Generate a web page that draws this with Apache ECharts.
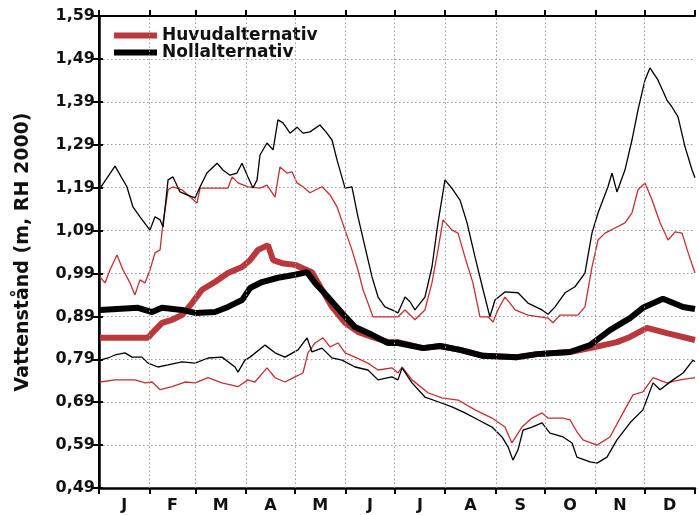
<!DOCTYPE html>
<html>
<head>
<meta charset="utf-8">
<script src="https://cdn.jsdelivr.net/npm/echarts@6/dist/echarts.min.js"></script>
<style>html,body{margin:0;padding:0;background:#fff;}#c{width:699px;height:515px;}</style>
</head>
<body>
<div id="c"></div>
<script>
// Month boundaries (day of year) and labels
const monthStarts = [0, 31, 59, 90, 120, 151, 181, 212, 243, 273, 304, 334, 365];
const monthLabels = ['J', 'F', 'M', 'A', 'M', 'J', 'J', 'A', 'S', 'O', 'N', 'D'];
const yTicks = ['0,49','0,59','0,69','0,79','0,89','0,99','1,09','1,19','1,29','1,39','1,49','1,59'];

// Huvudalternativ (red): mean, max, min  [day, m]
const huvudMean = [[0.6,0.840],[30,0.840],[34.3,0.858],[38.6,0.875],[44.7,0.882],[50.8,0.893],[57,0.921],[63.1,0.952],[71,0.970],[79,0.991],[87.6,1.005],[92.5,1.021],[97.4,1.045],[103.5,1.056],[106.6,1.021],[112.1,1.014],[120,1.010],[130.4,0.993],[136.6,0.952],[142.7,0.912],[150.7,0.875],[158.6,0.854],[167.2,0.842],[177,0.830],[183.1,0.830],[198.4,0.816],[208.8,0.821],[221.1,0.812],[235.2,0.798],[256,0.795],[268.2,0.802],[288.4,0.807],[300.7,0.816],[317.2,0.830],[325.2,0.842],[335.6,0.863],[347.8,0.851],[365,0.835]];
const huvudMax = [[0.6,0.982],[3.7,0.968],[6.7,0.998],[11,1.033],[14.7,0.998],[19,0.968],[22,0.940],[25.1,0.975],[28.2,0.968],[31.2,0.998],[34.3,1.038],[37.4,1.045],[39.2,1.108],[42.3,1.185],[45.3,1.192],[50.8,1.185],[54.5,1.173],[60,1.154],[61.9,1.189],[71,1.189],[79,1.189],[81.5,1.215],[85.1,1.201],[91.2,1.192],[98.6,1.189],[102.9,1.196],[107.8,1.168],[110.8,1.238],[115.1,1.224],[118.2,1.227],[121.3,1.201],[124.9,1.192],[129.2,1.178],[136.6,1.192],[141.5,1.173],[145.8,1.145],[150.7,1.091],[154.9,1.045],[158.6,0.998],[161.7,0.952],[164.7,0.921],[167.8,0.889],[183.1,0.889],[187.4,0.905],[193.5,0.882],[199.6,0.905],[203.9,0.968],[207.6,1.045],[210.7,1.115],[216.2,1.091],[219.9,1.084],[224.1,1.028],[229,0.968],[233.3,0.889],[238.2,0.889],[241.3,0.877],[244.3,0.905],[248.6,0.935],[251.7,0.921],[254.8,0.905],[262.7,0.893],[275,0.886],[278,0.875],[282.3,0.893],[293.3,0.893],[297.6,0.912],[301.9,1.005],[305.6,1.068],[309.9,1.084],[316,1.096],[322.1,1.108],[326.4,1.131],[330.1,1.185],[334.4,1.201],[338.7,1.161],[343.6,1.108],[348.5,1.068],[352.8,1.087],[357.1,1.084],[360.8,1.038],[365,0.991]];
const huvudMin = [[0.6,0.737],[9.8,0.742],[22,0.742],[28.2,0.735],[32.5,0.737],[37.4,0.719],[44.7,0.726],[52.7,0.737],[58.8,0.735],[66.8,0.747],[75.3,0.735],[85.1,0.726],[91.2,0.742],[95.5,0.737],[102.9,0.770],[107.8,0.747],[113.9,0.737],[120,0.749],[124.9,0.758],[128,0.805],[132.3,0.828],[137.2,0.840],[141.5,0.819],[146.4,0.828],[150.7,0.805],[156.8,0.795],[164.7,0.781],[170.9,0.765],[179.4,0.770],[183.1,0.758],[185.6,0.772],[191.7,0.742],[201.5,0.712],[210,0.700],[219.9,0.695],[230.3,0.672],[240.7,0.653],[248.6,0.632],[252.9,0.595],[259,0.632],[265.2,0.653],[271.3,0.665],[275,0.653],[284.2,0.653],[288.4,0.649],[292.7,0.621],[296.4,0.602],[305,0.590],[312.9,0.609],[320.9,0.665],[327,0.707],[333.1,0.714],[339.3,0.747],[347.8,0.735],[355.8,0.742],[365,0.747]];

// Nollalternativ (black): mean, max, min  [day, m]
const nollMean = [[0.6,0.905],[23.9,0.910],[32.5,0.900],[38.6,0.910],[50.8,0.905],[58.8,0.898],[71,0.900],[79,0.912],[87.6,0.928],[92.5,0.956],[99.8,0.970],[109.6,0.980],[120,0.987],[127.4,0.993],[132.3,0.968],[140.2,0.935],[148.8,0.898],[156.8,0.865],[167.2,0.847],[177,0.828],[183.1,0.828],[198.4,0.816],[208.8,0.821],[221.1,0.812],[235.2,0.798],[256,0.795],[268.2,0.802],[288.4,0.807],[300.7,0.823],[312.9,0.858],[325.2,0.886],[333.1,0.910],[345.4,0.931],[357.7,0.912],[365,0.907]];
const nollMax = [[0,1.185],[9.8,1.240],[17.1,1.192],[20.8,1.145],[25.1,1.122],[31.2,1.091],[34.3,1.122],[37.4,1.115],[39.2,1.098],[42.3,1.208],[45.3,1.215],[49.6,1.180],[53.9,1.173],[58.8,1.166],[61.9,1.192],[66.1,1.224],[72.3,1.247],[75.9,1.231],[80.2,1.219],[84.5,1.224],[87.6,1.247],[91.2,1.215],[94.3,1.189],[96.8,1.208],[98.6,1.266],[102.9,1.294],[106.6,1.278],[109.6,1.348],[112.7,1.341],[117,1.317],[121.3,1.331],[124.9,1.317],[129.2,1.320],[135.3,1.336],[139.6,1.317],[142.7,1.301],[145.8,1.254],[150.7,1.189],[154.9,1.192],[158.6,1.122],[162.9,1.052],[167.2,0.982],[170.9,0.935],[175.1,0.912],[179.4,0.905],[183.1,0.898],[187.4,0.935],[190.5,0.924],[193.5,0.905],[199.6,0.935],[203.9,1.005],[207.6,1.108],[211.9,1.208],[216.8,1.185],[221.1,1.161],[225.4,1.108],[230.3,1.028],[235.2,0.952],[239.4,0.889],[242.5,0.928],[248.6,0.947],[256.6,0.945],[262.7,0.921],[271.3,0.905],[275,0.895],[279.3,0.912],[285.4,0.945],[291.5,0.959],[297.6,0.991],[301.9,1.084],[305.6,1.131],[311.7,1.192],[314.2,1.224],[317.2,1.180],[322.1,1.231],[326.4,1.301],[330.1,1.371],[334.4,1.441],[337.4,1.469],[342.3,1.441],[347.8,1.394],[350.9,1.378],[354.6,1.355],[358.9,1.285],[363.2,1.231],[365,1.213]];
const nollMin = [[0.6,0.788],[5.5,0.793],[9.8,0.800],[15.9,0.805],[20.2,0.795],[26.3,0.795],[30,0.781],[36.1,0.772],[42.3,0.777],[50.8,0.784],[58.8,0.781],[66.8,0.793],[75.3,0.795],[83.3,0.772],[85.1,0.760],[89.4,0.788],[92.5,0.795],[101.7,0.823],[107.8,0.805],[113.9,0.795],[121.9,0.812],[127.4,0.840],[130.4,0.807],[136.6,0.816],[142.7,0.793],[148.8,0.788],[156.8,0.772],[164.7,0.765],[170.9,0.742],[179.4,0.749],[183.1,0.742],[185.6,0.770],[191.7,0.735],[199.6,0.702],[207.6,0.691],[216.2,0.679],[224.1,0.665],[232.1,0.649],[240.7,0.632],[246.8,0.609],[250.5,0.586],[253.5,0.555],[256.6,0.579],[259.7,0.625],[265.2,0.632],[271.3,0.642],[276.2,0.618],[284.2,0.609],[289.7,0.595],[292.7,0.562],[300.7,0.551],[305,0.548],[311.1,0.562],[317.2,0.602],[325.2,0.642],[333.1,0.672],[339.3,0.735],[343.6,0.719],[351.5,0.742],[357.7,0.758],[363.8,0.788],[365,0.784]];

const RED_THICK = '#b8383b';
const RED_THIN = '#c62f30';
const BLACK = '#000000';
const FONT = 'DejaVu Sans';
const GRID_COLOR = '#9a9a9a';

const monthMids = monthLabels.map((m, i) => (monthStarts[i] + monthStarts[i + 1]) / 2);

const chart = echarts.init(document.getElementById('c'), null, { renderer: 'canvas' });

function lineSeries(name, data, color, width) {
  return {
    name: name, type: 'line', data: data, showSymbol: false, symbol: 'none', z: 3,
    lineStyle: { color: color, width: width }, itemStyle: { color: color },
    animation: false, silent: true
  };
}

const gridLine = { show: true, lineStyle: { color: GRID_COLOR, type: [1.5, 2.5], width: 1 } };

// vertical month gridlines as markLine on an empty helper series
const monthGridSeries = {
  name: 'monthgrid', type: 'line', data: [], z: 1, silent: true, animation: false,
  markLine: {
    silent: true, symbol: ['none', 'none'], animation: false,
    label: { show: false },
    lineStyle: { color: GRID_COLOR, type: [1.5, 2.5], width: 1 },
    emphasis: { disabled: true },
    data: monthStarts.slice(1, -1).map(d => ({ xAxis: d }))
  }
};

chart.setOption({
  backgroundColor: '#fff',
  animation: false,
  grid: { left: 99, right: 4, top: 16, bottom: 27 },
  legend: {
    orient: 'vertical', left: 114, top: 27, padding: 0, itemWidth: 43, itemHeight: 6, itemGap: 0,
    icon: 'rect',
    textStyle: { fontFamily: FONT, fontWeight: 'bold', fontSize: 17, color: '#111', lineHeight: 17 },
    data: [
      { name: 'Huvudalternativ', itemStyle: { color: RED_THICK } },
      { name: 'Nollalternativ', itemStyle: { color: BLACK } }
    ]
  },
  xAxis: [
    {
      type: 'value', min: 0, max: 365, position: 'bottom',
      axisLine: { show: true, lineStyle: { color: '#000', width: 2.5 } },
      axisTick: { show: true, customValues: monthStarts, length: 6, inside: false, lineStyle: { color: '#000', width: 2 } },
      axisLabel: {
        show: true, customValues: monthMids, margin: 10,
        formatter: function (v) { const i = monthMids.findIndex(m => Math.abs(m - v) < 0.01); return i >= 0 ? monthLabels[i] : ''; },
        fontFamily: FONT, fontWeight: 'bold', fontSize: 16, color: '#111'
      },
      splitLine: { show: false }
    },
    {
      type: 'value', min: 0, max: 365, position: 'top',
      axisLine: { show: true, lineStyle: { color: '#000', width: 2 } },
      axisTick: { show: true, customValues: monthStarts, length: 6, inside: false, lineStyle: { color: '#000', width: 2 } },
      axisLabel: { show: false },
      splitLine: { show: false }
    }
  ],
  yAxis: [
    {
      type: 'value', min: 0.49, max: 1.59, interval: 0.1, position: 'left',
      name: 'Vattenstånd (m, RH 2000)', nameLocation: 'middle', nameGap: 66,
      nameTextStyle: { fontFamily: FONT, fontWeight: 'bold', fontSize: 19, color: '#111' },
      axisLine: { show: true, lineStyle: { color: '#000', width: 2.5 } },
      axisTick: { show: true, length: 7, lineStyle: { color: '#000', width: 2 } },
      axisLabel: {
        margin: 4, fontFamily: FONT, fontWeight: 'bold', fontSize: 16, color: '#111',
        formatter: function (v) { const i = Math.round((v - 0.49) / 0.1); return yTicks[i] || ''; }
      },
      splitLine: gridLine
    },
    {
      type: 'value', min: 0.49, max: 1.59, interval: 0.1, position: 'right',
      axisLine: { show: true, lineStyle: { color: '#000', width: 2 } },
      axisTick: { show: true, length: 4, lineStyle: { color: '#000', width: 2 } },
      axisLabel: { show: false },
      splitLine: { show: false }
    }
  ],
  series: [
    monthGridSeries,
    lineSeries('Huvudalternativ max', huvudMax, RED_THIN, 1.3),
    lineSeries('Nollalternativ max', nollMax, BLACK, 1.3),
    lineSeries('Huvudalternativ min', huvudMin, RED_THIN, 1.3),
    lineSeries('Nollalternativ min', nollMin, BLACK, 1.3),
    lineSeries('Huvudalternativ', huvudMean, RED_THICK, 6),
    lineSeries('Nollalternativ', nollMean, BLACK, 6)
  ]
});
</script>
</body>
</html>
